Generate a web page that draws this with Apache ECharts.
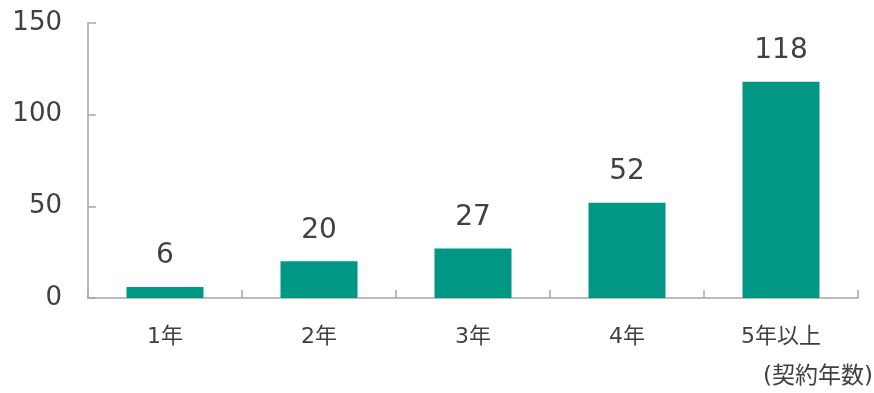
<!DOCTYPE html>
<html>
<head>
<meta charset="utf-8">
<style>
  html, body { margin: 0; padding: 0; background: #ffffff; }
  #chart { width: 874px; height: 393px; }
</style>
<script src="https://cdn.jsdelivr.net/npm/echarts@6/dist/echarts.min.js"></script>
</head>
<body>
<div id="chart"></div>
<script>
// Contract length buckets and counts
const categories = ['1年', '2年', '3年', '4年', '5年以上'];
const counts = [6, 20, 27, 52, 118];
const yTicks = { min: 0, max: 150, interval: 50 };
const unitLabel = '(契約年数)';

const FONT = '"DejaVu Sans", "Noto Sans CJK JP", sans-serif';
const TEXT = '#404040';
const AXIS = '#a6a6a6';
const BAR = '#009784';

const chart = echarts.init(document.getElementById('chart'), null, { renderer: 'canvas' });

chart.setOption({
  animation: false,
  backgroundColor: '#ffffff',
  grid: { left: 88, right: 16, top: 23, bottom: 95, containLabel: false },
  xAxis: {
    type: 'category',
    data: categories,
    boundaryGap: true,
    axisLine: { show: true, lineStyle: { color: AXIS, width: 1.5 } },
    axisTick: { show: true, inside: true, length: 8, alignWithLabel: false, lineStyle: { color: AXIS, width: 1.5 } },
    axisLabel: { color: TEXT, fontSize: 22, fontFamily: FONT, margin: 28 },
    splitLine: { show: false }
  },
  yAxis: {
    type: 'value',
    min: yTicks.min,
    max: yTicks.max,
    interval: yTicks.interval,
    axisLine: { show: true, lineStyle: { color: AXIS, width: 1.5 } },
    axisTick: { show: true, inside: true, length: 8, lineStyle: { color: AXIS, width: 1.5 } },
    axisLabel: { color: TEXT, fontSize: 26, fontFamily: FONT, margin: 26 },
    splitLine: { show: false }
  },
  series: [{
    type: 'bar',
    data: counts,
    barWidth: '50%',
    itemStyle: { color: BAR },
    label: {
      show: true,
      position: 'top',
      distance: 17,
      color: TEXT,
      fontSize: 28,
      fontFamily: FONT
    }
  }],
  graphic: [{
    type: 'text',
    right: 1,
    top: 366,
    style: { text: unitLabel, fill: TEXT, font: '23px ' + FONT }
  }]
});
</script>
</body>
</html>
